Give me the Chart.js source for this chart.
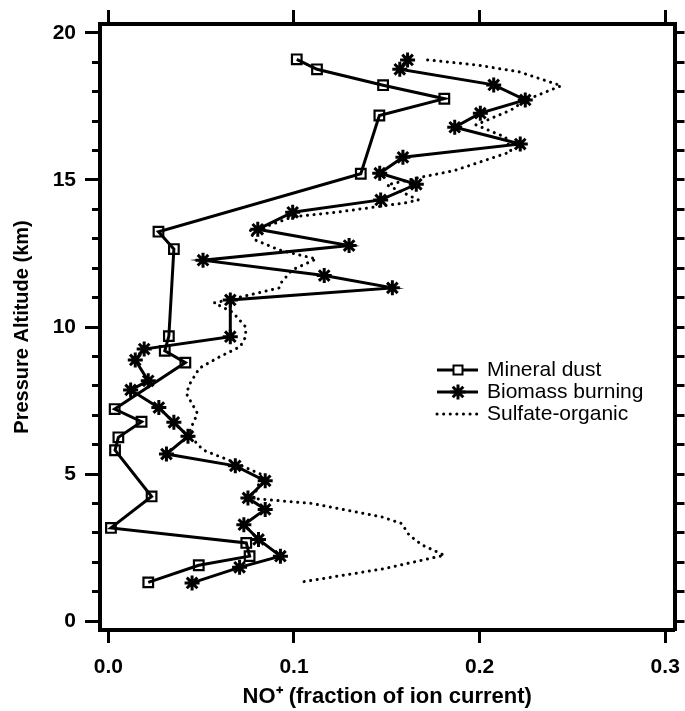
<!DOCTYPE html>
<html>
<head>
<meta charset="utf-8">
<script src="https://cdn.jsdelivr.net/npm/chart.js@4.4.1/dist/chart.umd.min.js"></script>
<style>
  html, body { margin: 0; padding: 0; background: #fff; }
  canvas { display: block; }
</style>
</head>
<body>
<canvas id="chart" width="685" height="711"></canvas>
<script>
// NO+ fraction vs pressure altitude
const dustNO  = [0.1015, 0.1124, 0.148, 0.181, 0.146, 0.136, 0.027, 0.0353, 0.0326, 0.0304, 0.0415, 0.0034, 0.0179, 0.0054, 0.0036, 0.0233, 0.0014, 0.0743, 0.0761, 0.0487, 0.0215];
const dustAlt = [19.10, 18.76, 18.22, 17.76, 17.19, 15.21, 13.24, 12.65, 9.69, 9.19, 8.79, 7.21, 6.78, 6.25, 5.81, 4.24, 3.17, 2.66, 2.21, 1.90, 1.32];

const burnNO  = [0.1612, 0.157, 0.2076, 0.2246, 0.2004, 0.1866, 0.2219, 0.1587, 0.1462, 0.1659, 0.1467, 0.0993, 0.0805, 0.1297, 0.051, 0.1163, 0.153, 0.0657, 0.0657, 0.0193, 0.0145, 0.0215, 0.012, 0.0272, 0.0353, 0.0429, 0.0313, 0.0684, 0.0845, 0.0752, 0.0845, 0.073, 0.0809, 0.0927, 0.0707, 0.0451];
const burnAlt = [19.08, 18.76, 18.23, 17.72, 17.27, 16.79, 16.22, 15.77, 15.23, 14.85, 14.32, 13.90, 13.32, 12.77, 12.27, 11.75, 11.33, 10.92, 9.67, 9.25, 8.88, 8.17, 7.86, 7.26, 6.76, 6.29, 5.68, 5.28, 4.77, 4.19, 3.80, 3.28, 2.78, 2.21, 1.83, 1.30];

const sulfNO  = [0.172, 0.198, 0.221, 0.244, 0.225, 0.217, 0.198, 0.214, 0.217, 0.186, 0.169, 0.150, 0.167, 0.160, 0.124, 0.099, 0.080, 0.076, 0.079, 0.092, 0.112, 0.099, 0.093, 0.092, 0.072, 0.057, 0.067, 0.074, 0.074, 0.071, 0.060, 0.049, 0.044, 0.042, 0.046, 0.048, 0.044, 0.046, 0.051, 0.067, 0.083, 0.078, 0.110, 0.147, 0.158, 0.162, 0.169, 0.181, 0.173, 0.149, 0.105];
const sulfAlt = [19.08, 18.91, 18.68, 18.20, 17.72, 17.38, 16.87, 16.45, 15.96, 15.31, 15.10, 14.83, 14.32, 14.22, 13.91, 13.74, 13.30, 13.28, 12.96, 12.62, 12.31, 11.94, 11.50, 11.33, 11.03, 10.82, 10.50, 10.00, 9.67, 9.33, 8.99, 8.60, 8.08, 7.74, 7.29, 7.06, 6.50, 6.16, 5.82, 5.42, 4.97, 4.17, 4.00, 3.55, 3.32, 2.93, 2.59, 2.24, 2.13, 1.79, 1.34];

const seriesNames = ['Mineral dust', 'Biomass burning', 'Sulfate-organic'];

const xTicks = [0, 0.1, 0.2, 0.3];
const yTicks = [0, 5, 10, 15, 20];

const pts = (xs, ys) => xs.map((x, i) => ({ x: x, y: ys[i] }));

const FONT = 'Liberation Sans, Arial, Helvetica, sans-serif';
const X_MIN = -0.0045, X_MAX = 0.305;
const Y_MIN = -0.3, Y_MAX = 20.3;

// legend drawn by hand: line sample with marker, like the original
const legendPlugin = {
  id: 'sampleLegend',
  afterDatasetsDraw(chart) {
    const ctx = chart.ctx;
    const x0 = 437, x1 = 478, xm = 458, xt = 487;
    const rows = [370, 392, 414];
    ctx.save();
    ctx.strokeStyle = '#000';
    rows.forEach((y, i) => {
      ctx.beginPath();
      ctx.lineWidth = 3;
      if (i === 2) {
        ctx.setLineDash([0.1, 6.5]);
        ctx.lineCap = 'round';
      } else {
        ctx.setLineDash([]);
        ctx.lineCap = 'butt';
      }
      ctx.moveTo(x0, y);
      ctx.lineTo(x1, y);
      ctx.stroke();
      ctx.setLineDash([]);
      if (i === 0) {
        ctx.lineWidth = 2;
        ctx.fillStyle = '#fff';
        ctx.fillRect(xm - 4.5, y - 4.5, 9, 9);
        ctx.strokeRect(xm - 4.5, y - 4.5, 9, 9);
      } else if (i === 1) {
        Chart.helpers.drawPoint(ctx, { pointStyle: 'star', radius: 7.5, borderWidth: 3 }, xm, y);
      }
      ctx.fillStyle = '#000';
      ctx.font = '21px ' + FONT;
      ctx.textAlign = 'left';
      ctx.textBaseline = 'middle';
      ctx.fillText(seriesNames[i], xt, y);
    });
    ctx.restore();
  }
};

const tickGrid = (len) => ({
  display: true,
  drawOnChartArea: false,
  drawTicks: true,
  tickLength: len,
  tickWidth: 3,
  tickColor: '#000',
  color: '#000'
});

new Chart(document.getElementById('chart'), {
  type: 'scatter',
  data: {
    datasets: [
      {
        label: seriesNames[0],
        data: pts(dustNO, dustAlt),
        showLine: true,
        borderColor: '#000',
        borderWidth: 3,
        pointStyle: 'rect',
        pointRadius: 6.8,
        pointBorderWidth: 2.2,
        pointBorderColor: '#000',
        pointBackgroundColor: 'rgba(0,0,0,0)',
        tension: 0
      },
      {
        label: seriesNames[1],
        data: pts(burnNO, burnAlt),
        showLine: true,
        borderColor: '#000',
        borderWidth: 3,
        pointStyle: 'star',
        pointRadius: 7.5,
        pointBorderWidth: 3,
        pointBorderColor: '#000',
        pointBackgroundColor: '#000',
        tension: 0
      },
      {
        label: seriesNames[2],
        data: pts(sulfNO, sulfAlt),
        showLine: true,
        borderColor: '#000',
        borderWidth: 3,
        borderDash: [0.1, 6.5],
        borderCapStyle: 'round',
        pointRadius: 0,
        tension: 0
      }
    ]
  },
  options: {
    responsive: false,
    maintainAspectRatio: false,
    animation: false,
    layout: { padding: 0 },
    plugins: {
      legend: { display: false },
      tooltip: { enabled: false }
    },
    scales: {
      x: {
        type: 'linear',
        position: 'bottom',
        min: X_MIN,
        max: X_MAX,
        afterBuildTicks: s => { s.ticks = xTicks.map(v => ({ value: v })); },
        grid: tickGrid(13),
        border: { display: true, width: 4, color: '#000' },
        ticks: {
          color: '#000',
          padding: 12,
          maxRotation: 0,
          font: { family: FONT, size: 21, weight: 'bold' },
          callback: v => Number(v).toFixed(1)
        },
        title: {
          display: true,
          text: 'NO\u207A (fraction of ion current)',
          color: '#000',
          font: { family: FONT, size: 22, weight: 'bold', lineHeight: 1.2 },
          padding: { top: 0, bottom: 1 }
        },
        afterFit: s => { s.height = 81; s.paddingLeft = 0; s.paddingRight = 0; }
      },
      xTop: {
        type: 'linear',
        position: 'top',
        min: X_MIN,
        max: X_MAX,
        afterBuildTicks: s => { s.ticks = xTicks.map(v => ({ value: v })); },
        grid: tickGrid(14),
        border: { display: true, width: 4, color: '#000' },
        ticks: { display: false },
        afterFit: s => { s.height = 24; s.paddingLeft = 0; s.paddingRight = 0; }
      },
      y: {
        type: 'linear',
        position: 'left',
        weight: 10,
        min: Y_MIN,
        max: Y_MAX,
        afterBuildTicks: s => { s.ticks = yTicks.map(v => ({ value: v })); },
        grid: tickGrid(15),
        border: { display: true, width: 4, color: '#000' },
        ticks: {
          color: '#000',
          padding: 9,
          font: { family: FONT, size: 21, weight: 'bold' },
          callback: v => String(v)
        },
        title: {
          display: true,
          text: 'Pressure Altitude (km)',
          color: '#000',
          font: { family: FONT, size: 20, weight: 'bold', lineHeight: 1.2 },
          padding: { top: 10, bottom: 0 }
        },
        afterFit: s => { s.width = 100; s.paddingTop = 0; s.paddingBottom = 0; }
      },
      yMinor: {
        type: 'linear',
        position: 'left',
        weight: 0,
        min: Y_MIN,
        max: Y_MAX,
        grid: tickGrid(8),
        border: { display: false },
        ticks: { display: false, stepSize: 1, includeBounds: false },
        afterFit: s => { s.width = 0; }
      },
      yRight: {
        type: 'linear',
        position: 'right',
        min: Y_MIN,
        max: Y_MAX,
        grid: tickGrid(10),
        border: { display: true, width: 4, color: '#000' },
        ticks: { display: false, stepSize: 1, includeBounds: false },
        afterFit: s => { s.width = 8; }
      }
    }
  },
  plugins: [legendPlugin]
});
</script>
</body>
</html>
